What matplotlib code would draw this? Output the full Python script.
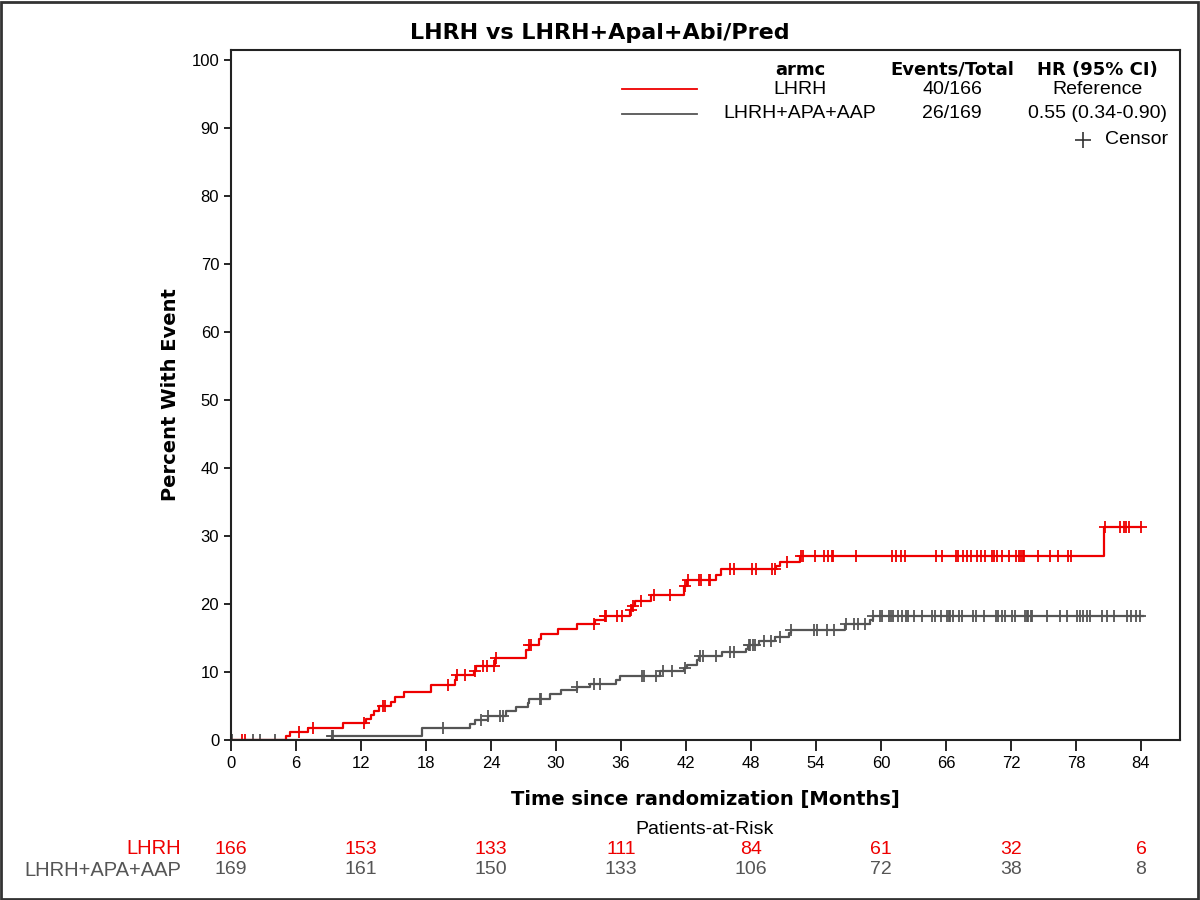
import numpy as np
import matplotlib
matplotlib.use("Agg")
import matplotlib.pyplot as plt
from matplotlib.lines import Line2D
from matplotlib.patches import Rectangle

# step curves: time (months) and cumulative percent with event
lhrh_t = [0, 5.05, 5.4, 7.1, 10.3, 12.5, 12.9, 13.2, 13.7, 14.8, 15.1, 16.0, 18.5, 20.65, 20.8,
          22.4, 22.65, 24.4, 27.2, 27.5, 28.4, 28.6, 30.2, 31.9, 33.6, 34.5, 36.8, 37.0, 37.3,
          38.8, 41.8, 42.1, 44.8, 45.2, 50.3, 50.7, 52.5, 80.6, 84.0]
lhrh_p = [0, 0.6, 1.2, 1.8, 2.5, 3.1, 3.7, 4.3, 5.0, 5.6, 6.3, 7.0, 8.1, 8.8, 9.5,
          10.2, 10.9, 12.1, 13.3, 14.0, 14.8, 15.6, 16.3, 17.0, 17.7, 18.3, 19.1, 19.7, 20.4,
          21.3, 22.7, 23.5, 24.3, 25.1, 25.6, 26.2, 27.1, 31.3, 31.3]
lhrh_cens = [1.0, 1.3, 6.3, 7.6, 12.25, 14.0, 14.2, 20.0, 20.9, 21.6, 22.5, 23.3, 23.6, 24.3, 24.5,
             27.5, 27.7, 33.5, 34.5, 34.6, 35.6, 36.1, 36.9, 37.1, 37.8, 39.0, 40.5, 41.9, 42.2,
             43.2, 43.4, 44.1, 44.2, 46.1, 46.4, 48.1, 48.5, 49.9, 50.2, 51.3, 52.6, 52.8, 53.9,
             54.7, 55.1, 55.5, 55.6, 57.7, 61.0, 61.4, 61.8, 62.2, 65.1, 65.6, 66.9, 67.1, 67.6,
             67.9, 68.3, 68.9, 69.2, 69.6, 70.2, 70.4, 70.7, 71.2, 71.8, 72.5, 72.7, 72.9, 73.1,
             73.2, 74.5, 75.6, 76.3, 77.3, 77.5, 80.7, 82.1, 82.4, 82.6, 82.9, 84.0]

apa_t = [0, 9.3, 17.6, 22.1, 22.5, 23.7, 25.4, 26.3, 27.4, 27.5, 29.4, 30.5, 31.9, 33.1, 35.5,
         35.9, 39.6, 41.8, 42.1, 43.0, 43.2, 45.3, 47.5, 47.7, 48.7, 50.2, 51.5, 51.7, 56.7,
         59.0, 59.3, 84.2]
apa_p = [0, 0.6, 1.7, 2.4, 3.0, 3.6, 4.2, 4.9, 5.5, 6.1, 6.8, 7.4, 7.8, 8.2, 8.8,
         9.4, 10.1, 10.6, 11.1, 11.8, 12.4, 12.9, 13.4, 14.0, 14.5, 15.2, 15.7, 16.2, 17.1,
         17.7, 18.2, 18.2]
apa_cens = [0.06, 2.0, 2.7, 4.1, 9.3, 9.45, 19.6, 23.1, 23.7, 24.8, 25.1, 28.5, 28.6, 31.9,
            33.5, 34.1, 37.9, 38.1, 39.2, 39.9, 40.7, 41.9, 43.3, 43.6, 44.8, 46.1, 46.4, 47.8,
            47.9, 48.2, 48.4, 49.2, 49.8, 50.7, 51.7, 53.8, 54.1, 55.0, 55.7, 56.8, 57.5, 57.9,
            58.5, 59.3, 59.9, 60.1, 60.7, 60.9, 61.1, 61.6, 61.9, 62.3, 62.5, 63.0, 63.8, 64.7,
            65.0, 65.5, 66.1, 66.3, 66.4, 66.6, 67.2, 67.5, 68.5, 68.8, 69.5, 70.6, 70.8, 71.2,
            71.4, 72.1, 72.4, 73.3, 73.5, 73.6, 73.8, 73.9, 75.3, 76.5, 77.2, 78.1, 78.4, 78.6,
            79.0, 79.3, 80.4, 80.9, 81.5, 82.7, 83.1, 83.5, 83.9]

risk_times = [0, 12, 24, 36, 48, 60, 72, 84]
risk_lhrh = [166, 153, 133, 111, 84, 61, 32, 6]
risk_apa = [169, 161, 150, 133, 106, 72, 38, 8]

arms = ["LHRH", "LHRH+APA+AAP"]
events = ["40/166", "26/169"]
hrs = ["Reference", "0.55 (0.34-0.90)"]

red = "#ee0000"
grey = "#555555"

W, H = 1200, 900
fig = plt.figure(figsize=(12, 9), dpi=100)
fig.patches.append(Rectangle((0.001, 0.001), 0.997, 0.997, transform=fig.transFigure,
                             fill=False, edgecolor="#333333", linewidth=2))

def fx(px):
    return px / W

def fy(py):
    return 1 - py / H

ax = fig.add_axes([fx(231), fy(740), fx(1180) - fx(231), fy(50) - fy(740)])


def level_at(ts, ps, t):
    i = np.searchsorted(ts, t, side="right") - 1
    return np.array(ps)[np.clip(i, 0, len(ps) - 1)]


for ts, ps, cens, col in [(apa_t, apa_p, apa_cens, grey), (lhrh_t, lhrh_p, lhrh_cens, red)]:
    ax.step(ts, ps, where="post", color=col, linewidth=1.6)
    ax.plot(cens, level_at(ts, ps, cens), "+", color=col, markersize=9, mew=1.3,
            linestyle="none")

ax.set_xlim(0, 87.6)
ax.set_ylim(0, 101.5)
ax.set_xticks(np.arange(0, 85, 6))
ax.set_yticks(np.arange(0, 101, 10))
ax.tick_params(axis="both", direction="out", labelsize=12, width=1.2)
ax.tick_params(axis="x", length=8)
ax.tick_params(axis="y", length=5)
for lab in ax.get_xticklabels() + ax.get_yticklabels():
    lab.set_family("Liberation Sans")
for s in ax.spines.values():
    s.set_linewidth(1.5)
    s.set_color("#222222")

fig.text(fx(600), fy(33), "LHRH vs LHRH+Apal+Abi/Pred", ha="center", va="center",
         fontsize=16, fontweight="bold", family="DejaVu Sans")
fig.text(fx(170), fy(395), "Percent With Event", ha="center", va="center", rotation=90,
         fontsize=14, fontweight="bold", family="DejaVu Sans")
fig.text(fx(705), fy(800), "Time since randomization [Months]", ha="center", va="center",
         fontsize=14, fontweight="bold", family="DejaVu Sans")

# legend block
fig.text(fx(800), fy(70), "armc", ha="center", va="center", fontsize=13, fontweight="bold",
         family="DejaVu Sans")
fig.text(fx(952), fy(70), "Events/Total", ha="center", va="center", fontsize=13,
         fontweight="bold", family="DejaVu Sans")
fig.text(fx(1097), fy(70), "HR (95% CI)", ha="center", va="center", fontsize=13,
         fontweight="bold", family="DejaVu Sans")
for i, col in enumerate([red, grey]):
    yy = 89 + i * 25
    fig.add_artist(Line2D([fx(622), fx(697)], [fy(yy), fy(yy)], color=col, linewidth=1.3))
    fig.text(fx(800), fy(yy), arms[i], ha="center", va="center", fontsize=14,
             family="Liberation Sans")
    fig.text(fx(952), fy(yy), events[i], ha="center", va="center", fontsize=14,
             family="Liberation Sans")
    fig.text(fx(1097), fy(yy), hrs[i], ha="center", va="center", fontsize=14,
             family="Liberation Sans")
fig.add_artist(Line2D([fx(1083)], [fy(140)], marker="+", color="#333333", markersize=11,
                      mew=1.2, linestyle="none"))
fig.text(fx(1168), fy(140), "Censor", ha="right", va="center", fontsize=14,
         family="Liberation Sans")

# patients at risk
fig.text(fx(705), fy(829), "Patients-at-Risk", ha="center", va="center", fontsize=14,
         family="Liberation Sans")
for row, (name, vals, col) in enumerate([(arms[0], risk_lhrh, red), (arms[1], risk_apa, grey)]):
    yy = 849 + row * 21
    fig.text(fx(181), fy(yy), name, ha="right", va="center", fontsize=14.5, color=col,
             family="Liberation Sans")
    for t, v in zip(risk_times, vals):
        xpx = ax.transData.transform((t, 0))[0]
        fig.text(xpx / W, fy(yy), str(v), ha="center", va="center", fontsize=14, color=col,
                 family="Liberation Sans")

fig.savefig("out.png", dpi=100)
